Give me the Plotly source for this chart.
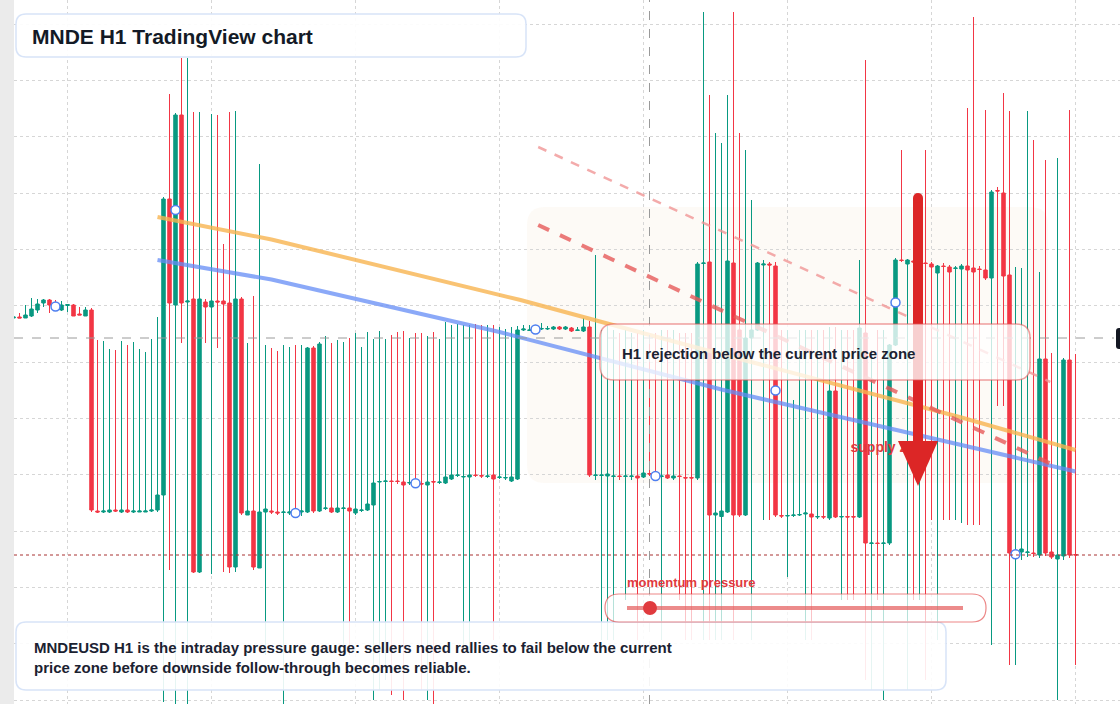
import numpy as np
import pandas as pd
import plotly.graph_objects as go

# ---- OHLC values (price in units of 0.0001 USD) ----
open_ = [1432,1433,1432,1434,1440,1447,1450,1445,1440,1444.5,1445,1436,1434,1440,1239,1238,1238,1240,1238,1240,
         1238,1238,1238,1239,1240,1255,1551,1445,1635,1448,1451,1178,1448,1443,1449,1449,1447,1183,1451,1235,
         1239,1182,1238,1239,1238,1237.5,1237,1238,1238,1238,1402,1239,1241.5,1242,1238,1241.5,1242,1237,1239.5,1240,
         1245,1268,1268.5,1269,1269,1268,1267,1267.5,1266.5,1265,1268.5,1267.5,1267,1271,1274.5,1273,1273,1275,1274.5,1273.5,
         1275,1272.5,1272,1269,1271,1420,1419.5,1420,1421,1421,1421,1423,1421,1422,1419.5,1419,1423,1274.5,1274.5,1274,
         1273.5,1274,1273.5,1273.5,1274,1273,1276.5,1275,1273.5,1275,1272,1274,1272.5,1272.5,1272,1486.5,1488,1235,1233.5,1238,
         1487,1420,1235,1412,1420,1485,1486,1484,1234.5,1234,1234.5,1235,1236,1236,1233,1233.5,1232,1359,1233,1233.5,
         1233.5,1233,1417,1206.5,1207,1206.5,1207,1405,1490,1486,1489,1487,1487,1486,1477,1484,1483,1481.5,1481,1484,
         1482,1481,1480,1472,1559.5,1557,1475,1195,1198,1197.5,1197,1195,1391,1198,1191,1194,1390,1195.5]
high = [1434,1437,1445,1452,1451,1451,1451,1450,1449,1446,1446,1443,1443,1442,1410,1409,1401,1400,1409,1405,
        1408,1401,1398,1411,1433,1553,1656,1637,1692,1692,1638,1638,1451,1636,1635,1506,1638,1639,1453,1407,
        1454,1586,1405,1402,1399,1405,1403,1405,1405,1403,1404,1408,1414,1407,1410,1408,1412,1417,1403,1418,
        1411,1419,1411,1415,1418,1419,1412,1417,1417,1414,1418,1411,1428,1425,1426,1425,1425,1426,1425,1425,
        1425,1423,1421,1423,1424,1425,1425,1424,1427,1424,1424,1424,1424,1423,1423,1432,1429,1495,1420,1424,
        1420,1417,1420,1417,1417,1420,1412,1417,1420,1420,1420,1417,1417,1417,1488,1738,1655,1617,1607,1655,
        1738,1617,1600,1550,1488,1490,1488,1488,1420,1420,1350,1420,1420,1420,1420,1420,1423,1423,1420,1420,
        1420,1490,1690,1400,1420,1420,1406,1492,1600,1491,1550,1550,1600,1488,1485,1487,1485,1484,1486,1642,
        1733,1484,1640,1560,1563,1657,1639,1483,1482,1639,1610,1478,1590,1397,1592,1392,1640,1396]
low = [1432,1432,1432,1433,1437,1443,1437,1441,1439,1438,1434,1435,1434,1238,1237,1237,1237,1238,1237,1237,
       1237,1238,1238,1238,1238,1048,1180,1046,1407,1046,1177,1177,1407,1176,1402,1178,1177,1178,1235,1235,
       1180,1182,1095,1236,1235,1046,1235,1234,1234,1237,1237,1238,1240,1237,1237,1095,1095,1235,1238,1239,
       1050,1060,1070,1055,1266,1050,1265,1264,1060,1050,1046,1266,1266,1270,1273,1100,1100,1273,1272,1272,
       1110,1271,1270,1268,1270,1419,1419,1418,1420,1420,1420,1420,1420,1418,1419,1418,1273,1270,1110,1110,
       1110,1270,1150,1270,1110,1272,1274,1272,1110,1271,1270,1150,1110,1110,1270,1110,1110,1110,1110,1237,
       1110,1233,1234,1110,1419,1230,1230,1233,1232,1173,1233,1234,1110,1110,1231,1231,1230,1232,1150,1150,
       1150,1232,1070,1060,1150,1050,1205,1404,1488,1060,1150,1150,1070,1230,1110,1230,1230,1230,1227,1225,
       1225,1225,1470,1105,1344,1344,1085,1085,1190,1193,1193,1192,1194,1191,1050,1190,1192,1085]
close = [1433,1432,1435,1441,1446,1450,1445,1442,1445,1445.5,1434,1435,1440,1240,1238,1239,1240,1239,1240,1238,
         1239,1239,1239,1240,1255,1551,1447,1635,1447,1449,1178,1451,1443,1449,1448,1446,1183,1451,1237,1239,
         1183,1238,1241,1238,1237,1238,1238,1236,1239,1402,1239,1406,1242,1238,1242,1242,1239,1241,1240,1246,
         1267,1268.5,1269,1268.5,1268.5,1265,1267.5,1266,1266,1268,1268,1268,1273,1275,1275,1273.5,1275,1274.5,1274,1274,
         1271,1273,1272.5,1273,1420,1421,1420,1421,1421.5,1421.5,1423,1421,1423,1419,1420,1423,1275,1275,1275,1276,
         1274,1273.5,1274,1274,1272,1277,1276,1273,1274,1272,1274,1273.5,1272,1272,1486,1487,1235,1237,1239,1489,
         1235,1235,1412,1420,1487,1486,1485,1235,1234,1234.5,1235,1235.5,1237,1233,1233.5,1233,1359,1233,1233.5,1233,
         1233,1422,1207,1207,1206.5,1207,1405,1490,1489.5,1490,1488,1488,1486.5,1483,1484,1483.5,1478,1482,1484,1480,
         1478,1480.5,1472,1558,1559,1474,1197,1196.5,1201,1198,1196.5,1391,1197,1193,1195,1390,1195,1195]

scale = 10000.0
o = np.array(open_) / scale
h = np.array(high) / scale
l = np.array(low) / scale
c = np.array(close) / scale
n = len(o)
t0 = pd.Timestamp("2025-01-13 15:00")
times = pd.date_range(t0, periods=n, freq="h")

def at(idx):
    return [t0 + pd.Timedelta(hours=float(v)) for v in idx]

# trend / overlay lines (candle index, price in 1e-4 units)
orange_idx = [24, 43, 84.5, 111, 158, 177]
orange_val = [1533, 1510.5, 1450, 1407, 1332.5, 1300]
blue_idx = [24, 43, 81, 118, 145, 158, 177]
blue_val = [1490, 1470.5, 1418, 1360.5, 1323, 1305, 1278.5]
red_dash_idx = [87.45, 172.95]
red_dash_val = [1525, 1286]
pink_dash_idx = [87.45, 172.8]
pink_dash_val = [1603, 1368]
marker_idx = list(range(7, n, 20))
current_price = 1412
support_price = 1195
crosshair_idx = 106
zone_label_idx = 139.5
zone_label_val = 1302

UP = "#089981"
DOWN = "#f23645"
FONT = "Liberation Sans, Arial, Helvetica, sans-serif"

fig = go.Figure()
fig.add_trace(go.Candlestick(
    x=times, open=o, high=h, low=l, close=c,
    increasing=dict(line=dict(color=UP, width=1), fillcolor=UP),
    decreasing=dict(line=dict(color=DOWN, width=1), fillcolor=DOWN),
    whiskerwidth=0, showlegend=False, hoverinfo="skip"))

fig.add_trace(go.Scatter(x=at(orange_idx), y=np.array(orange_val)/scale, mode="lines",
                         line=dict(color="rgba(248,180,80,0.8)", width=4), showlegend=False, hoverinfo="skip"))
fig.add_trace(go.Scatter(x=at(blue_idx), y=np.array(blue_val)/scale, mode="lines",
                         line=dict(color="rgba(100,140,245,0.75)", width=4), showlegend=False, hoverinfo="skip"))
fig.add_trace(go.Scatter(x=at(pink_dash_idx), y=np.array(pink_dash_val)/scale, mode="lines",
                         line=dict(color="rgba(240,150,150,0.8)", width=2.5, dash="dash"), showlegend=False, hoverinfo="skip"))
fig.add_trace(go.Scatter(x=at(red_dash_idx), y=np.array(red_dash_val)/scale, mode="lines",
                         line=dict(color="rgba(230,90,90,0.8)", width=4, dash="dash"), showlegend=False, hoverinfo="skip"))
mx = [times[i] for i in marker_idx]
my = [(o[i] + c[i]) / 2 for i in marker_idx]
fig.add_trace(go.Scatter(x=mx, y=my, mode="markers",
                         marker=dict(symbol="circle", size=9, color="white",
                                     line=dict(color="#4d7ef0", width=1.5)),
                         showlegend=False, hoverinfo="skip"))
# supply zone label (as trace so that the arrow shape is drawn over it)
fig.add_trace(go.Scatter(x=at([zone_label_idx]), y=[zone_label_val/scale], mode="text",
                         text=["<b>supply zone</b>"], textposition="middle right",
                         textfont=dict(family=FONT, size=14, color="#e0393e"),
                         showlegend=False, hoverinfo="skip"))

W, H = 1120, 704
L = 14
PW = W - L

def X(px):
    return (px - L) / PW

def Y(py):
    return 1 - py / H

def rrect(x0, y0, x1, y1, r):
    rx, ry = r, r
    pts = [
        f"M {X(x0+rx)},{Y(y0)}", f"L {X(x1-rx)},{Y(y0)}", f"Q {X(x1)},{Y(y0)} {X(x1)},{Y(y0+ry)}",
        f"L {X(x1)},{Y(y1-ry)}", f"Q {X(x1)},{Y(y1)} {X(x1-rx)},{Y(y1)}",
        f"L {X(x0+rx)},{Y(y1)}", f"Q {X(x0)},{Y(y1)} {X(x0)},{Y(y1-ry)}",
        f"L {X(x0)},{Y(y0+ry)}", f"Q {X(x0)},{Y(y0)} {X(x0+rx)},{Y(y0)}", "Z"]
    return " ".join(pts)

shapes = []
# supply zone (below)
shapes.append(dict(type="path", path=rrect(527, 207, 1048, 483, 18), xref="paper", yref="paper",
                   fillcolor="rgba(248,232,214,0.22)", line=dict(width=0), layer="below"))
# crosshair + price lines
shapes.append(dict(type="line", xref="x", yref="paper", x0=times[crosshair_idx], x1=times[crosshair_idx],
                   y0=0, y1=1, line=dict(color="#9a9a9a", width=1, dash="dash"), layer="above"))
shapes.append(dict(type="line", xref="paper", yref="y", x0=0, x1=X(1114), y0=current_price/scale,
                   y1=current_price/scale, line=dict(color="#9a9a9a", width=1, dash="dash"), layer="above"))
shapes.append(dict(type="line", xref="paper", yref="y", x0=0, x1=1, y0=support_price/scale,
                   y1=support_price/scale, line=dict(color="#a83232", width=1, dash="dot"), layer="above"))
# arrow
shapes.append(dict(type="line", xref="paper", yref="paper", x0=X(918), x1=X(918), y0=Y(198), y1=Y(445),
                   line=dict(color="#dc2626", width=10), layer="above"))
shapes.append(dict(type="circle", xref="paper", yref="paper", x0=X(913), x1=X(923), y0=Y(193), y1=Y(203),
                   fillcolor="#dc2626", line=dict(width=0), layer="above"))
shapes.append(dict(type="path", xref="paper", yref="paper",
                   path=f"M {X(898)},{Y(441)} L {X(938)},{Y(441)} L {X(918)},{Y(486)} Z",
                   fillcolor="#dc2626", line=dict(width=0), layer="above"))
# annotation box
shapes.append(dict(type="path", path=rrect(600, 324, 1030, 380, 14), xref="paper", yref="paper",
                   fillcolor="rgba(255,255,255,0.78)", line=dict(color="rgba(226,80,80,0.55)", width=1.5), layer="above"))
# title box
shapes.append(dict(type="path", path=rrect(16, 14, 526, 57, 10), xref="paper", yref="paper",
                   fillcolor="rgba(255,255,255,0.93)", line=dict(color="#d8e4f8", width=1.5), layer="above"))
# bottom text box
shapes.append(dict(type="path", path=rrect(16, 622, 946, 690, 10), xref="paper", yref="paper",
                   fillcolor="rgba(255,255,255,0.9)", line=dict(color="#d8e4f8", width=1.5), layer="above"))
# momentum pill
shapes.append(dict(type="path", path=rrect(605, 594, 986, 622, 14), xref="paper", yref="paper",
                   fillcolor="rgba(255,255,255,0.7)", line=dict(color="rgba(226,70,70,0.65)", width=1.2), layer="above"))
shapes.append(dict(type="line", xref="paper", yref="paper", x0=X(627), x1=X(963), y0=Y(608), y1=Y(608),
                   line=dict(color="rgba(228,90,90,0.7)", width=4), layer="above"))
shapes.append(dict(type="circle", xref="paper", yref="paper", x0=X(643), x1=X(657), y0=Y(601), y1=Y(615),
                   fillcolor="#e03a3e", line=dict(width=0), layer="above"))
# right price-scale label (clipped at the window edge)
shapes.append(dict(type="path", path=rrect(1116, 328, 1160, 349, 3), xref="paper", yref="paper",
                   fillcolor="#131722", line=dict(width=0), layer="above"))

annotations = [
    dict(x=X(30), y=Y(36), xref="paper", yref="paper", text="<b>MNDE H1 TradingView chart</b>",
         showarrow=False, xanchor="left", yanchor="middle", font=dict(family=FONT, size=21, color="#131a26")),
    dict(x=X(620), y=Y(353), xref="paper", yref="paper", text="<b>H1 rejection below the current price zone</b>",
         showarrow=False, xanchor="left", yanchor="middle", font=dict(family=FONT, size=15, color="#1b2231")),
    dict(x=X(625), y=Y(582), xref="paper", yref="paper", text="<b>momentum pressure</b>",
         showarrow=False, xanchor="left", yanchor="middle", font=dict(family=FONT, size=13, color="#e0393e")),
    dict(x=X(32), y=Y(657), xref="paper", yref="paper",
         text="<b>MNDEUSD H1 is the intraday pressure gauge: sellers need rallies to fail below the current<br>"
              "price zone before downside follow-through becomes reliable.</b>",
         showarrow=False, xanchor="left", yanchor="middle", align="left",
         font=dict(family=FONT, size=15, color="#1b2231")),
]

left_h = 0.0833
x_range = [t0 + pd.Timedelta(hours=left_h), t0 + pd.Timedelta(hours=left_h + PW / 6.0)]
fig.update_layout(
    width=W, height=H, margin=dict(l=L, r=0, t=0, b=0),
    paper_bgcolor="#ebebeb", plot_bgcolor="white",
    boxgap=0.17,
    shapes=shapes, annotations=annotations,
    xaxis=dict(type="date", range=x_range, rangeslider=dict(visible=False), showticklabels=False,
               showgrid=True, gridcolor="#d6d6d6", griddash="dot", gridwidth=1,
               tick0="2025-01-14 00:00", dtick=86400000, zeroline=False, showline=False, ticks=""),
    yaxis=dict(range=[0.1046, 0.1750], showticklabels=False, showgrid=True, gridcolor="#d6d6d6",
               griddash="dot", gridwidth=1, tick0=0.1050, dtick=0.00563333, zeroline=False, ticks=""),
    showlegend=False,
)
fig.write_html("out.html")
